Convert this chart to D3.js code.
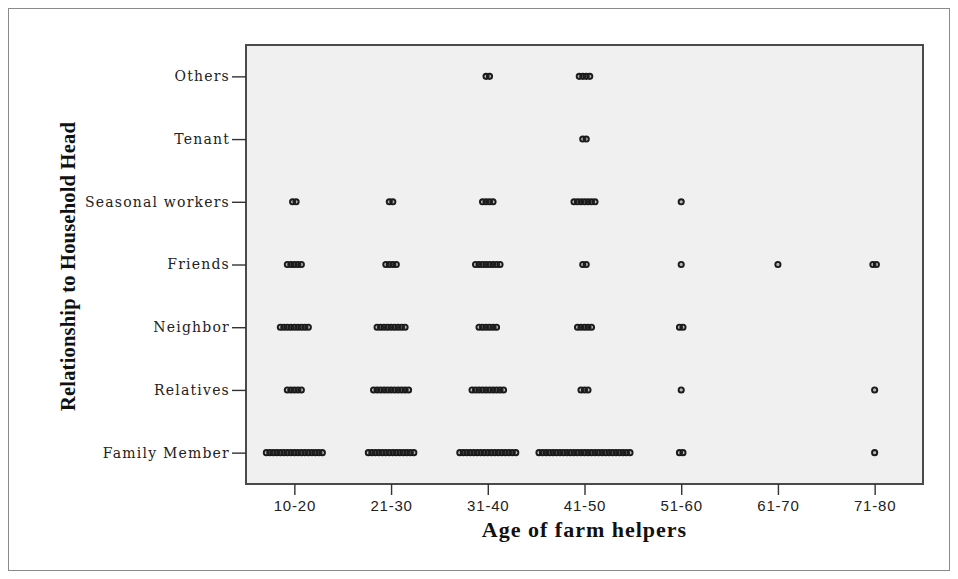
<!DOCTYPE html>
<html>
<head>
<meta charset="utf-8">
<script src="https://cdn.jsdelivr.net/npm/d3@7/dist/d3.min.js"></script>
<style>
  html, body { margin: 0; padding: 0; background: #fff; }
  svg { display: block; }
</style>
</head>
<body>
<svg id="chart" width="958" height="579"></svg>
<script>
// ---- data ----
const relationships = ["Family Member", "Relatives", "Neighbor", "Friends", "Seasonal workers", "Tenant", "Others"];
const ageGroups = ["10-20", "21-30", "31-40", "41-50", "51-60", "61-70", "71-80"];
// number of helpers (dots) per age group, one array per relationship
const familyMember    = [17, 14, 17, 27, 2, 0, 1];
const relatives       = [5, 11, 10, 3, 1, 0, 1];
const neighbor        = [9, 9, 6, 5, 2, 0, 0];
const friends         = [5, 4, 8, 2, 1, 1, 2];
const seasonalWorkers = [2, 2, 4, 7, 1, 0, 0];
const tenant          = [0, 0, 0, 2, 0, 0, 0];
const others          = [0, 0, 2, 4, 0, 0, 0];
const seriesCounts = [familyMember, relatives, neighbor, friends, seasonalWorkers, tenant, others];

// ---- layout ----
const svg = d3.select("#chart");
const W = 958, H = 579;
const plot = { left: 246, top: 45, right: 923, bottom: 484 };

const defs = svg.append("defs");
defs.append("filter").attr("id", "soft")
  .attr("x", "-20%").attr("y", "-50%").attr("width", "140%").attr("height", "200%")
  .append("feGaussianBlur").attr("stdDeviation", 0.45);

// outer frame
svg.append("rect")
  .attr("x", 8.5).attr("y", 8.5)
  .attr("width", W - 17).attr("height", H - 17)
  .attr("fill", "#fff").attr("stroke", "#8a8a8a").attr("stroke-width", 1);

// plot background
svg.append("rect")
  .attr("x", plot.left).attr("y", plot.top)
  .attr("width", plot.right - plot.left).attr("height", plot.bottom - plot.top)
  .attr("fill", "#f0f0f0").attr("stroke", "#4a4a4a").attr("stroke-width", 2);

const x = d3.scalePoint().domain(ageGroups).range([plot.left, plot.right]).padding(0.5);
const y = d3.scalePoint().domain(relationships).range([plot.bottom, plot.top]).padding(0.5);

// axes
const xAxis = svg.append("g")
  .attr("transform", `translate(0,${plot.bottom})`)
  .call(d3.axisBottom(x).tickSize(11).tickPadding(5));
xAxis.select(".domain").remove();
xAxis.selectAll(".tick line").attr("stroke", "#333").attr("stroke-width", 1.4);
xAxis.selectAll(".tick text")
  .attr("fill", "#222")
  .style("font-family", "'Liberation Sans', Arial, sans-serif")
  .style("font-size", "15px")
  .style("letter-spacing", "0.8px");

const yAxis = svg.append("g")
  .attr("transform", `translate(${plot.left},0)`)
  .call(d3.axisLeft(y).tickSize(14).tickPadding(2));
yAxis.select(".domain").remove();
yAxis.selectAll(".tick line").attr("stroke", "#333").attr("stroke-width", 1.4);
yAxis.selectAll(".tick text")
  .attr("fill", "#222")
  .style("font-family", "'DejaVu Serif', serif")
  .style("font-size", "14px")
  .style("letter-spacing", "1.2px");

// dots
const step = 3.5;
const dots = [];
relationships.forEach((rel, ri) => {
  ageGroups.forEach((ag, ai) => {
    const n = seriesCounts[ri][ai];
    for (let k = 0; k < n; k++) {
      dots.push({ rel, ag, offset: (k - (n - 1) / 2) * step });
    }
  });
});

svg.append("g")
  .attr("filter", "url(#soft)")
  .selectAll("circle")
  .data(dots)
  .join("circle")
  .attr("cx", d => x(d.ag) + d.offset)
  .attr("cy", d => y(d.rel))
  .attr("r", 2.6)
  .attr("fill", "#333")
  .attr("fill-opacity", 0.3)
  .attr("stroke", "#1a1a1a")
  .attr("stroke-width", 1.9);

// axis titles
svg.append("text")
  .attr("x", (plot.left + plot.right) / 2)
  .attr("y", 537)
  .attr("text-anchor", "middle")
  .attr("fill", "#111")
  .style("font-family", "'Liberation Serif', 'Times New Roman', serif")
  .style("font-weight", "bold")
  .style("font-size", "22px")
  .style("letter-spacing", "1px")
  .text("Age of farm helpers");

svg.append("text")
  .attr("transform", `translate(75,${(plot.top + plot.bottom) / 2 + 2}) rotate(-90)`)
  .attr("text-anchor", "middle")
  .attr("fill", "#111")
  .style("font-family", "'Liberation Serif', 'Times New Roman', serif")
  .style("font-weight", "bold")
  .style("font-size", "20.5px")
  .style("letter-spacing", "0.2px")
  .text("Relationship to Household Head");
</script>
</body>
</html>
